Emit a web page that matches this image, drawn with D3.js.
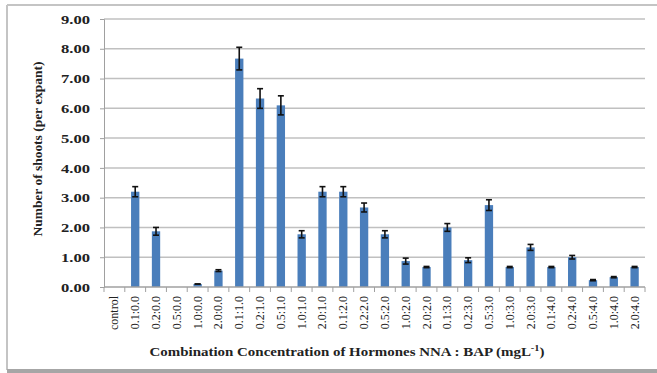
<!DOCTYPE html>
<html>
<head>
<meta charset="utf-8">
<script src="https://cdn.jsdelivr.net/npm/d3@7"></script>
<style>
  html, body { margin: 0; padding: 0; background: #fff; }
  svg { display: block; }
</style>
</head>
<body>
<svg id="chart" width="657" height="373"></svg>
<script>
// Hormone combinations (NNA : BAP, mg/L)
const categories = [
  "control", "0.1:0.0", "0.2:0.0", "0.5:0.0", "1.0:0.0", "2.0:0.0",
  "0.1:1.0", "0.2:1.0", "0.5:1.0", "1.0:1.0", "2.0:1.0",
  "0.1:2.0", "0.2:2.0", "0.5:2.0", "1.0:2.0", "2.0:2.0",
  "0.1:3.0", "0.2:3.0", "0.5:3.0", "1.0:3.0", "2.0:3.0",
  "0.1:4.0", "0.2:4.0", "0.5:4.0", "1.0:4.0", "2.0:4.0"
];
// Mean number of shoots per explant
const shoots = [
  0, 3.20, 1.87, 0, 0.10, 0.55,
  7.67, 6.33, 6.10, 1.77, 3.20,
  3.20, 2.67, 1.77, 0.87, 0.67,
  2.00, 0.90, 2.75, 0.67, 1.33,
  0.67, 1.00, 0.23, 0.33, 0.67
];
// Standard error of each mean
const stdErr = [
  0, 0.17, 0.13, 0, 0, 0.03,
  0.38, 0.33, 0.32, 0.12, 0.17,
  0.17, 0.15, 0.12, 0.10, 0.02,
  0.13, 0.08, 0.18, 0.02, 0.10,
  0.02, 0.06, 0.02, 0.02, 0.02
];
const yTicks = [0, 1, 2, 3, 4, 5, 6, 7, 8, 9];

const svg = d3.select("#chart");
const W = 657, H = 373;

// Frame around the chart area
svg.append("line").attr("x1", 7).attr("x2", 7).attr("y1", 5).attr("y2", 370)
  .attr("stroke", "#c4c4c4").attr("stroke-width", 2);
svg.append("line").attr("x1", 7).attr("x2", W).attr("y1", 5).attr("y2", 5)
  .attr("stroke", "#c4c4c4").attr("stroke-width", 2);
svg.append("rect").attr("x", 7).attr("y", 369).attr("width", W - 7).attr("height", 4)
  .attr("fill", "#a6a6a6");

const plot = { left: 104, right: 645, top: 19, bottom: 287 };

const x = d3.scaleBand()
  .domain(categories)
  .range([plot.left, plot.right])
  .paddingInner(0.6)
  .paddingOuter(0.3);

const y = d3.scaleLinear()
  .domain([0, 9])
  .range([plot.bottom, plot.top]);

// Horizontal gridlines
svg.append("g")
  .selectAll("line")
  .data(yTicks.filter(d => d > 0))
  .join("line")
  .attr("x1", plot.left).attr("x2", plot.right)
  .attr("y1", d => y(d)).attr("y2", d => y(d))
  .attr("stroke", "#c0c0c0").attr("stroke-width", 1.5);

// Y axis
const yAxis = svg.append("g")
  .attr("transform", `translate(${plot.left},0)`)
  .call(d3.axisLeft(y).tickValues(yTicks).tickFormat(d3.format(".2f")).tickSize(4).tickPadding(10));
yAxis.select(".domain").attr("stroke", "#a0a0a0");
yAxis.selectAll(".tick line").attr("stroke", "#a0a0a0");
yAxis.selectAll(".tick text")
  .attr("font-family", "'Liberation Serif', 'Times New Roman', serif")
  .attr("font-size", 13)
  .attr("font-weight", "bold")
  .attr("fill", "#222")
  .attr("textLength", 29)
  .attr("lengthAdjust", "spacingAndGlyphs");

// Bars
svg.append("g")
  .selectAll("rect")
  .data(categories)
  .join("rect")
  .attr("x", d => x(d))
  .attr("width", x.bandwidth())
  .attr("y", (d, i) => y(shoots[i]))
  .attr("height", (d, i) => y(0) - y(shoots[i]))
  .attr("fill", "#4a7ebb");

// X axis with boundary ticks
const step = x.step();
const bounds = d3.range(categories.length + 1).map(i => plot.left + i * (plot.right - plot.left) / categories.length);
svg.append("line")
  .attr("x1", plot.left).attr("x2", plot.right)
  .attr("y1", y(0)).attr("y2", y(0))
  .attr("stroke", "#a0a0a0").attr("stroke-width", 1.5);
svg.append("g")
  .selectAll("line")
  .data(bounds)
  .join("line")
  .attr("x1", d => d).attr("x2", d => d)
  .attr("y1", y(0)).attr("y2", y(0) + 5)
  .attr("stroke", "#a0a0a0");

// Error bars
const eb = svg.append("g").attr("stroke", "#111").attr("stroke-width", 1.6);
categories.forEach((c, i) => {
  if (shoots[i] <= 0) return;
  const cx = x(c) + x.bandwidth() / 2;
  const hi = y(shoots[i] + stdErr[i]);
  const lo = y(shoots[i] - stdErr[i]);
  eb.append("line").attr("x1", cx).attr("x2", cx).attr("y1", hi).attr("y2", lo);
  eb.append("line").attr("x1", cx - 3).attr("x2", cx + 3).attr("y1", hi).attr("y2", hi);
  eb.append("line").attr("x1", cx - 3).attr("x2", cx + 3).attr("y1", lo).attr("y2", lo);
});

// Category labels, rotated
svg.append("g")
  .selectAll("text")
  .data(categories)
  .join("text")
  .attr("transform", d => `translate(${x(d) + x.bandwidth() / 2 + 4},${y(0) + 9}) rotate(-90)`)
  .attr("text-anchor", "end")
  .attr("font-family", "'Liberation Serif', 'Times New Roman', serif")
  .attr("font-size", 12)
  .attr("fill", "#222")
  .text(d => d);

// Axis titles
svg.append("text")
  .attr("x", 347).attr("y", 356)
  .attr("text-anchor", "middle")
  .attr("font-family", "'Liberation Serif', 'Times New Roman', serif")
  .attr("font-size", 13)
  .attr("font-weight", "bold")
  .attr("fill", "#222")
  .attr("textLength", 395)
  .attr("lengthAdjust", "spacingAndGlyphs")
  .html("Combination Concentration of Hormones  NNA : BAP (mgL<tspan dy='-5' font-size='9'>-1</tspan><tspan dy='5'>)</tspan>");

svg.append("text")
  .attr("transform", "translate(42,149) rotate(-90)")
  .attr("text-anchor", "middle")
  .attr("font-family", "'Liberation Serif', 'Times New Roman', serif")
  .attr("font-size", 12.5)
  .attr("font-weight", "bold")
  .attr("fill", "#222")
  .attr("textLength", 175)
  .attr("lengthAdjust", "spacingAndGlyphs")
  .text("Number of shoots (per expant)");
</script>
</body>
</html>
